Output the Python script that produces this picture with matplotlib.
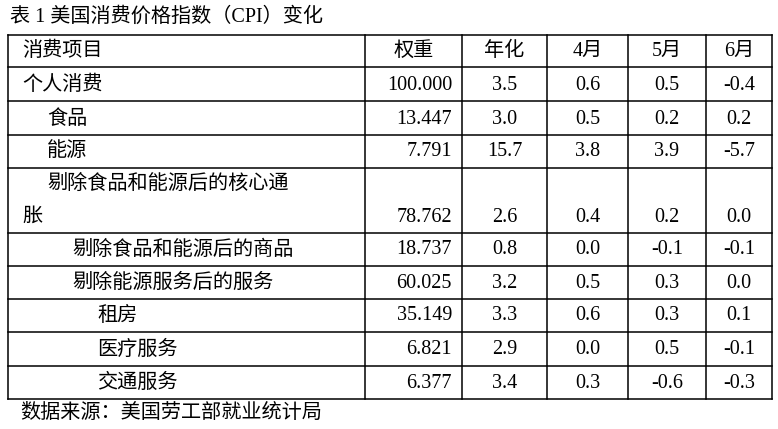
import matplotlib
matplotlib.use("Agg")
import matplotlib.pyplot as plt

title = "表 1 美国消费价格指数（CPI）变化"
headers = ["消费项目", "权重", "年化", "4月", "5月", "6月"]
items = ["个人消费", "食品", "能源", "剔除食品和能源后的核心通\n胀", "剔除食品和能源后的商品",
         "剔除能源服务后的服务", "租房", "医疗服务", "交通服务"]
indent = [0, 1, 1, 1, 2, 2, 3, 3, 3]
weights = ["100.000", "13.447", "7.791", "78.762", "18.737", "60.025", "35.149", "6.821", "6.377"]
annual = ["3.5", "3.0", "15.7", "2.6", "0.8", "3.2", "3.3", "2.9", "3.4"]
apr = ["0.6", "0.5", "3.8", "0.4", "0.0", "0.5", "0.6", "0.0", "0.3"]
may = ["0.5", "0.2", "3.9", "0.2", "-0.1", "0.3", "0.3", "0.5", "-0.6"]
jun = ["-0.4", "0.2", "-5.7", "0.0", "-0.1", "0.0", "0.1", "-0.1", "-0.3"]
source = "数据来源：美国劳工部就业统计局"

plt.rcParams['font.family'] = ['Liberation Serif', 'Noto Sans CJK SC']
fig = plt.figure(figsize=(7.78, 4.29), dpi=100)
ax = fig.add_axes([0, 0, 1, 1])
ax.set_xlim(0, 778); ax.set_ylim(429, 0); ax.axis('off')

xs = [8, 365, 462, 547, 628, 706, 772]
ys = [35, 67, 101, 135, 168, 233, 266, 299, 332, 366, 399]
fs = 14.5
ax.text(10, 17, title, fontsize=fs, va='center', ha='left')
for y in ys:
    ax.plot([xs[0], xs[-1]], [y, y], color='black', lw=1.1)
for x in xs:
    ax.plot([x, x], [ys[0], ys[-1]], color='black', lw=1.1)

base = 22
hy = (ys[0] + ys[1]) / 2
ax.text(base, hy, headers[0], fontsize=fs, va='center', ha='left')
for j in range(1, 6):
    ax.text((xs[j] + xs[j+1]) / 2, hy, headers[j], fontsize=fs, va='center', ha='center')

for i in range(len(items)):
    top, bot = ys[i+1], ys[i+2]
    ny = bot - 16
    x0 = base + indent[i] * 25
    if "\n" in items[i]:
        a, b = items[i].split("\n")
        ax.text(x0, top + 16, a, fontsize=fs, va='center', ha='left')
        ax.text(base, ny, b, fontsize=fs, va='center', ha='left')
    else:
        ax.text(x0, ny, items[i], fontsize=fs, va='center', ha='left')
    ax.text(xs[2] - 10, ny, weights[i], fontsize=fs, va='center', ha='right')
    for j, col in zip(range(2, 6), [annual, apr, may, jun]):
        ax.text((xs[j] + xs[j+1]) / 2, ny, col[i], fontsize=fs, va='center', ha='center')

ax.text(20, 414, source, fontsize=fs, va='center', ha='left')
fig.savefig("out.png", dpi=100)
